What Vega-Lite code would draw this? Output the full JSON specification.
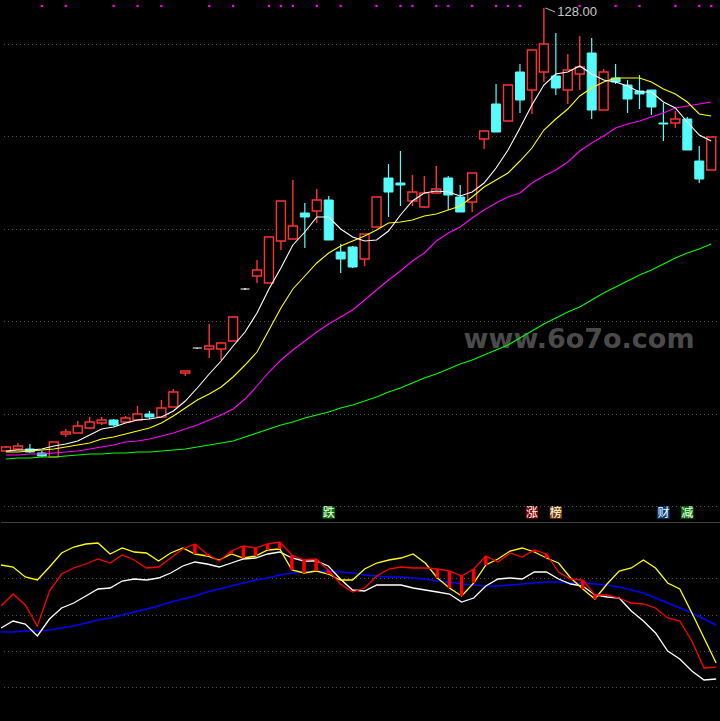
{
"$schema": "https://vega.github.io/schema/vega-lite/v6.json",
"background": "#000000",
"padding": 0,
"spacing": 0,
"config": {"view": {"stroke": null}, "axis": {"disable": true}, "legend": {"disable": true}},
"datasets": {
"k": [
{"i":0,"o":17.25,"h":18.5,"l":17,"c":18.25,"m5":17.25,"m10":17,"m20":16.25,"m60":15.25},
{"i":1,"o":17.75,"h":19.25,"l":17.5,"c":18.5,"m5":17.5,"m10":17,"m20":16.25,"m60":15.5},
{"i":2,"o":17.75,"h":19,"l":16.75,"c":17,"m5":17.5,"m10":17.25,"m20":16.5,"m60":15.5},
{"i":3,"o":16.75,"h":17.25,"l":15.75,"c":16,"m5":17.75,"m10":17.5,"m20":16.5,"m60":15.75},
{"i":4,"o":15.75,"h":19.5,"l":15.75,"c":19.5,"m5":18.5,"m10":17.75,"m20":16.75,"m60":15.75},
{"i":5,"o":21.5,"h":22.75,"l":20.75,"c":22,"m5":19,"m10":18.25,"m20":17,"m60":16},
{"i":6,"o":21.75,"h":24.75,"l":21.75,"c":23.5,"m5":19.75,"m10":18.75,"m20":17.25,"m60":16.25},
{"i":7,"o":23,"h":25.75,"l":22.75,"c":24.5,"m5":21.25,"m10":19.25,"m20":17.75,"m60":16.5},
{"i":8,"o":24.25,"h":25.75,"l":23.75,"c":25,"m5":22.75,"m10":20.25,"m20":18.25,"m60":16.5},
{"i":9,"o":25,"h":25.25,"l":23.5,"c":23.75,"m5":23.25,"m10":20.75,"m20":18.75,"m60":16.75},
{"i":10,"o":24.5,"h":26,"l":24.25,"c":25.5,"m5":24.25,"m10":21.5,"m20":19.5,"m60":16.75},
{"i":11,"o":25,"h":28.5,"l":25,"c":26.5,"m5":25,"m10":22.25,"m20":19.75,"m60":17},
{"i":12,"o":26.5,"h":27.25,"l":25.25,"c":25.75,"m5":25.25,"m10":23,"m20":20.25,"m60":17},
{"i":13,"o":25.75,"h":30,"l":25.75,"c":28,"m5":25.75,"m10":24.25,"m20":21,"m60":17.25},
{"i":14,"o":28.25,"h":32.75,"l":28.25,"c":32,"m5":27.25,"m10":26,"m20":21.75,"m60":17.5},
{"i":15,"o":36.75,"h":37.25,"l":36,"c":37.25,"m5":29.75,"m10":28,"m20":22.75,"m60":17.75},
{"i":16,"o":43,"h":43,"l":42.75,"c":43,"m5":33,"m10":30,"m20":23.75,"m60":18.25},
{"i":17,"o":42.75,"h":49,"l":40.5,"c":43.5,"m5":36.5,"m10":31.5,"m20":25,"m60":18.75},
{"i":18,"o":42.75,"h":44.5,"l":40,"c":44.25,"m5":39.75,"m10":33.25,"m20":26.25,"m60":19.25},
{"i":19,"o":44.75,"h":50.75,"l":44.75,"c":50.75,"m5":43.5,"m10":35.75,"m20":27.75,"m60":19.75},
{"i":20,"o":57.75,"h":58,"l":57.5,"c":57.75,"m5":47,"m10":38.75,"m20":30.25,"m60":20.75},
{"i":21,"o":61,"h":65,"l":59.25,"c":62.5,"m5":51.75,"m10":42,"m20":33.5,"m60":21.75},
{"i":22,"o":59.25,"h":70.75,"l":59.25,"c":70.75,"m5":57.75,"m10":47.5,"m20":37,"m60":22.75},
{"i":23,"o":69.75,"h":79.75,"l":67.5,"c":79.75,"m5":63,"m10":53,"m20":40,"m60":23.75},
{"i":24,"o":70.25,"h":85,"l":70.25,"c":73.5,"m5":68.75,"m10":57.75,"m20":42.5,"m60":24.5},
{"i":25,"o":76.75,"h":79.25,"l":68,"c":75.75,"m5":72,"m10":61,"m20":44.75,"m60":25.5},
{"i":26,"o":77.25,"h":82.75,"l":74.25,"c":80,"m5":75.75,"m10":64.25,"m20":47,"m60":26.25},
{"i":27,"o":80,"h":81,"l":70,"c":70,"m5":75.75,"m10":66.75,"m20":49,"m60":27},
{"i":28,"o":67,"h":69,"l":61.75,"c":65.25,"m5":72.75,"m10":68.5,"m20":50.75,"m60":28},
{"i":29,"o":68.25,"h":68.5,"l":63,"c":63.25,"m5":70.75,"m10":69.75,"m20":52.5,"m60":28.75},
{"i":30,"o":65.25,"h":71.5,"l":63.5,"c":71.5,"m5":69.75,"m10":71,"m20":55,"m60":29.75},
{"i":31,"o":73.25,"h":80.75,"l":73.25,"c":80.75,"m5":70,"m10":72.5,"m20":57.5,"m60":30.75},
{"i":32,"o":85.5,"h":89,"l":75.75,"c":82,"m5":72.25,"m10":74.25,"m20":60,"m60":32},
{"i":33,"o":84.25,"h":92.25,"l":78.5,"c":83.75,"m5":76.25,"m10":74.5,"m20":62.25,"m60":33},
{"i":34,"o":79.75,"h":86.25,"l":78.5,"c":82,"m5":79.75,"m10":75,"m20":64.75,"m60":34.25},
{"i":35,"o":78.25,"h":86,"l":78,"c":81.75,"m5":81.75,"m10":76,"m20":66.75,"m60":35.5},
{"i":36,"o":81.75,"h":88.5,"l":81.75,"c":82.75,"m5":82.25,"m10":76.5,"m20":69.75,"m60":36.5},
{"i":37,"o":85.5,"h":86,"l":77.5,"c":81.25,"m5":82,"m10":77.5,"m20":71.75,"m60":37.75},
{"i":38,"o":80.75,"h":83.75,"l":77,"c":77,"m5":81,"m10":78.5,"m20":73.25,"m60":39},
{"i":39,"o":79.5,"h":86.75,"l":77,"c":86.75,"m5":82,"m10":80.75,"m20":75.5,"m60":40},
{"i":40,"o":95.25,"h":97.25,"l":92.75,"c":97.25,"m5":84.25,"m10":83.25,"m20":77.5,"m60":41.25},
{"i":41,"o":104,"h":109,"l":97,"c":97,"m5":88,"m10":85,"m20":79.25,"m60":42.5},
{"i":42,"o":99.75,"h":108.75,"l":99.75,"c":108.75,"m5":92.5,"m10":86.75,"m20":80.75,"m60":43.75},
{"i":43,"o":112,"h":114,"l":101.75,"c":105,"m5":98,"m10":89.75,"m20":81.75,"m60":45.5},
{"i":44,"o":107.5,"h":117.5,"l":101.5,"c":117.5,"m5":103.75,"m10":93,"m20":84.25,"m60":47.25},
{"i":45,"o":112,"h":128,"l":109.5,"c":119,"m5":108.75,"m10":97.5,"m20":86,"m60":49},
{"i":46,"o":111,"h":121.75,"l":106.25,"c":108,"m5":111.5,"m10":100.25,"m20":87.5,"m60":50.5},
{"i":47,"o":107.5,"h":116.5,"l":104,"c":112.5,"m5":112,"m10":102.75,"m20":89.5,"m60":52},
{"i":48,"o":111.5,"h":121,"l":107.5,"c":113.25,"m5":113.5,"m10":106,"m20":92.25,"m60":53.25},
{"i":49,"o":116.75,"h":120.5,"l":100.25,"c":102.5,"m5":111.5,"m10":108,"m20":94.25,"m60":55},
{"i":50,"o":102.5,"h":112.75,"l":102.5,"c":112,"m5":110,"m10":109.5,"m20":96,"m60":56.75},
{"i":51,"o":110.5,"h":114,"l":109,"c":109.5,"m5":109.5,"m10":110.5,"m20":98,"m60":58.25},
{"i":52,"o":108.75,"h":110,"l":101.75,"c":105.25,"m5":108.5,"m10":110.5,"m20":99,"m60":59.75},
{"i":53,"o":107.25,"h":111.25,"l":102.75,"c":106.5,"m5":107,"m10":110.5,"m20":99.75,"m60":61.25},
{"i":54,"o":107.5,"h":107.5,"l":101.25,"c":103.25,"m5":107,"m10":109.5,"m20":100.75,"m60":62.5},
{"i":55,"o":99.25,"h":104.25,"l":94.75,"c":99,"m5":104.5,"m10":107.75,"m20":101.75,"m60":64},
{"i":56,"o":99.25,"h":102.25,"l":98,"c":100.25,"m5":103,"m10":106.5,"m20":103,"m60":65.5},
{"i":57,"o":100.25,"h":100.75,"l":92.5,"c":92.5,"m5":99.5,"m10":104.5,"m20":103.5,"m60":66.75},
{"i":58,"o":89.75,"h":93.5,"l":84.25,"c":85.25,"m5":96.25,"m10":101.5,"m20":104,"m60":67.75},
{"i":59,"o":87.5,"h":95.75,"l":87.5,"c":95.75,"m5":94.75,"m10":101,"m20":104.5,"m60":69}
],
"ind": [
{"i":0,"ya":78.5,"ra":58,"wa":47,"ba":45},
{"i":1,"ya":77.5,"ra":64,"wa":50.5,"ba":45},
{"i":2,"ya":72.5,"ra":58.5,"wa":49,"ba":45.5},
{"i":3,"ya":71,"ra":48,"wa":43,"ba":45.5},
{"i":4,"ya":77.5,"ra":65.5,"wa":51.5,"ba":46},
{"i":5,"ya":84.5,"ra":74,"wa":57,"ba":47},
{"i":6,"ya":87.5,"ra":77,"wa":59.5,"ba":48},
{"i":7,"ya":89,"ra":79,"wa":63,"ba":49.5},
{"i":8,"ya":89.5,"ra":81.5,"wa":66.5,"ba":51},
{"i":9,"ya":84,"ra":79.5,"wa":67,"ba":52},
{"i":10,"ya":87,"ra":83.5,"wa":70.5,"ba":53.5},
{"i":11,"ya":85,"ra":81,"wa":71.5,"ba":55},
{"i":12,"ya":84.5,"ra":77,"wa":71,"ba":56.5},
{"i":13,"ya":80.5,"ra":77.5,"wa":72,"ba":58},
{"i":14,"ya":84.5,"ra":82,"wa":74.5,"ba":60},
{"i":15,"ya":87,"ra":86.5,"wa":78,"ba":61.5},
{"i":16,"ya":84,"ra":89,"wa":80,"ba":63},
{"i":17,"ya":83,"ra":84,"wa":79,"ba":65},
{"i":18,"ya":81,"ra":80.5,"wa":77.5,"ba":66.5},
{"i":19,"ya":84,"ra":85.5,"wa":79.5,"ba":68},
{"i":20,"ya":82,"ra":88,"wa":81.5,"ba":69.5},
{"i":21,"ya":83,"ra":87,"wa":82,"ba":71},
{"i":22,"ya":86,"ra":89,"wa":84,"ba":72},
{"i":23,"ya":86.5,"ra":90,"wa":85,"ba":73.5},
{"i":24,"ya":76,"ra":83.5,"wa":82,"ba":74.5},
{"i":25,"ya":74.5,"ra":81,"wa":80.5,"ba":75},
{"i":26,"ya":75.5,"ra":81.5,"wa":80.5,"ba":75.5},
{"i":27,"ya":74,"ra":76,"wa":78,"ba":75.5},
{"i":28,"ya":71,"ra":69,"wa":71.5,"ba":75},
{"i":29,"ya":71,"ra":65,"wa":66,"ba":74.5},
{"i":30,"ya":76.5,"ra":67,"wa":65.5,"ba":73.5},
{"i":31,"ya":79.5,"ra":73,"wa":68.5,"ba":73},
{"i":32,"ya":81,"ra":76.5,"wa":68.5,"ba":72.5},
{"i":33,"ya":82,"ra":77.5,"wa":68.5,"ba":72.5},
{"i":34,"ya":84,"ra":77,"wa":67,"ba":72},
{"i":35,"ya":79.5,"ra":77,"wa":66,"ba":71.5},
{"i":36,"ya":72,"ra":76.5,"wa":65,"ba":70.5},
{"i":37,"ya":67,"ra":75.5,"wa":64,"ba":70},
{"i":38,"ya":63,"ra":73,"wa":60,"ba":69},
{"i":39,"ya":69.5,"ra":76.5,"wa":62,"ba":68.5},
{"i":40,"ya":78.5,"ra":83,"wa":68,"ba":68},
{"i":41,"ya":81.5,"ra":80,"wa":71.5,"ba":68},
{"i":42,"ya":85.5,"ra":84.5,"wa":72,"ba":68.5},
{"i":43,"ya":87,"ra":82.5,"wa":71.5,"ba":69},
{"i":44,"ya":85,"ra":86,"wa":75,"ba":69.5},
{"i":45,"ya":82,"ra":84,"wa":75,"ba":70},
{"i":46,"ya":79.5,"ra":75,"wa":71.5,"ba":70},
{"i":47,"ya":72,"ra":71.5,"wa":69,"ba":69.5},
{"i":48,"ya":66.5,"ra":71,"wa":68,"ba":69.5},
{"i":49,"ya":61.5,"ra":63.5,"wa":63.5,"ba":69},
{"i":50,"ya":69,"ra":63.5,"wa":62.5,"ba":68.5},
{"i":51,"ya":75.5,"ra":62,"wa":62,"ba":67.5},
{"i":52,"ya":77,"ra":59.5,"wa":55.5,"ba":66},
{"i":53,"ya":81,"ra":59,"wa":50.5,"ba":64.5},
{"i":54,"ya":77,"ra":57,"wa":44.5,"ba":62},
{"i":55,"ya":69.5,"ra":52,"wa":35.5,"ba":59.5},
{"i":56,"ya":66.5,"ra":50.5,"wa":31.5,"ba":57},
{"i":57,"ya":54.5,"ra":40.5,"wa":25.5,"ba":54.5},
{"i":58,"ya":42,"ra":27,"wa":21,"ba":51.5},
{"i":59,"ya":29.5,"ra":27.5,"wa":21.5,"ba":48.5}
],
"dots": [{"i":3},{"i":5},{"i":9},{"i":11},{"i":13},{"i":17},{"i":19},{"i":22},{"i":23},{"i":24},{"i":26},{"i":28},{"i":31},{"i":33},{"i":34},{"i":36},{"i":37},{"i":39},{"i":41},{"i":42},{"i":43},{"i":48},{"i":51},{"i":53},{"i":56},{"i":58},{"i":59}],
"tags": [{"i":27,"t":"跌"},{"i":44,"t":"涨"},{"i":46,"t":"榜"},{"i":55,"t":"财"},{"i":57,"t":"减"}]
},
"vconcat": [
{
"width": 720, "height": 521,
"layer": [
{"data": {"values": [{"p":118.875},{"p":95.875},{"p":72.625},{"p":49.625},{"p":26.375},{"p":3.375}]},
 "mark": {"type": "rule", "color": "#505050", "strokeDash": [1,3], "strokeWidth": 1},
 "encoding": {"y": {"field": "p", "type": "quantitative", "scale": {"domain": [-0.25,130], "nice": false, "zero": false}}}},
{"data": {"values": [{}]},
 "mark": {"type": "text", "text": "www.6o7o.com", "font": "DejaVu Sans", "fontWeight": "bold", "fontSize": 27, "color": "#4a4a4a", "align": "center", "baseline": "alphabetic"},
 "encoding": {"x": {"datum": 47.94, "type": "quantitative", "scale": {"domain": [0,59.4], "nice": false, "zero": false}}, "y": {"datum": 43, "type": "quantitative"}}},
{"data": {"name": "k"}, "transform": [{"filter": "datum.c < datum.o"}],
 "mark": {"type": "rule", "color": "#54fcfc", "strokeWidth": 1.2, "clip": true},
 "encoding": {"x": {"field": "i", "type": "quantitative"}, "y": {"field": "h", "type": "quantitative"}, "y2": {"field": "l"}}},
{"data": {"name": "k"}, "transform": [{"filter": "datum.c > datum.o"}],
 "mark": {"type": "rule", "color": "#ff3232", "strokeWidth": 1.4, "clip": true},
 "encoding": {"x": {"field": "i", "type": "quantitative"}, "y": {"field": "h", "type": "quantitative"}, "y2": {"field": "c"}}},
{"data": {"name": "k"}, "transform": [{"filter": "datum.c > datum.o"}],
 "mark": {"type": "rule", "color": "#ff3232", "strokeWidth": 1.4, "clip": true},
 "encoding": {"x": {"field": "i", "type": "quantitative"}, "y": {"field": "o", "type": "quantitative"}, "y2": {"field": "l"}}},
{"data": {"name": "k"}, "transform": [{"filter": "datum.c == datum.o"}],
 "mark": {"type": "rule", "color": "#ffffff", "strokeWidth": 1.2, "clip": true},
 "encoding": {"x": {"field": "i", "type": "quantitative"}, "y": {"field": "h", "type": "quantitative"}, "y2": {"field": "l"}}},
{"data": {"name": "k"}, "transform": [{"filter": "datum.c > datum.o"}],
 "mark": {"type": "bar", "width": 9, "fill": "#000000", "stroke": "#ff3232", "strokeWidth": 1.4, "clip": true},
 "encoding": {"x": {"field": "i", "type": "quantitative"}, "y": {"field": "o", "type": "quantitative"}, "y2": {"field": "c"}}},
{"data": {"name": "k"}, "transform": [{"filter": "datum.c < datum.o"}],
 "mark": {"type": "bar", "width": 9, "fill": "#54fcfc", "stroke": "#54fcfc", "strokeWidth": 1, "clip": true},
 "encoding": {"x": {"field": "i", "type": "quantitative"}, "y": {"field": "o", "type": "quantitative"}, "y2": {"field": "c"}}},
{"data": {"name": "k"}, "transform": [{"filter": "datum.c == datum.o"}],
 "mark": {"type": "bar", "width": 9, "fill": "#ffffff", "stroke": "#ffffff", "strokeWidth": 1.2, "clip": true},
 "encoding": {"x": {"field": "i", "type": "quantitative"}, "y": {"field": "o", "type": "quantitative"}, "y2": {"field": "c"}}},
{"data": {"name": "k"},
 "mark": {"type": "line", "color": "#00ff00", "strokeWidth": 1.1, "clip": true},
 "encoding": {"x": {"field": "i", "type": "quantitative"}, "y": {"field": "m60", "type": "quantitative"}}},
{"data": {"name": "k"},
 "mark": {"type": "line", "color": "#ff00ff", "strokeWidth": 1.1, "clip": true},
 "encoding": {"x": {"field": "i", "type": "quantitative"}, "y": {"field": "m20", "type": "quantitative"}}},
{"data": {"name": "k"},
 "mark": {"type": "line", "color": "#ffff00", "strokeWidth": 1.1, "clip": true},
 "encoding": {"x": {"field": "i", "type": "quantitative"}, "y": {"field": "m10", "type": "quantitative"}}},
{"data": {"name": "k"},
 "mark": {"type": "line", "color": "#ffffff", "strokeWidth": 1.1, "clip": true},
 "encoding": {"x": {"field": "i", "type": "quantitative"}, "y": {"field": "m5", "type": "quantitative"}}},
{"data": {"name": "dots"},
 "mark": {"type": "square", "color": "#ff00ff", "filled": true, "opacity": 1, "size": 5},
 "encoding": {"x": {"field": "i", "type": "quantitative"}, "y": {"datum": 128.5, "type": "quantitative"}}},
{"data": {"values": [{}]},
 "mark": {"type": "rule", "color": "#c0c0c0", "strokeWidth": 1},
 "encoding": {"x": {"datum": 45.13, "type": "quantitative"}, "y": {"datum": 128, "type": "quantitative"}, "x2": {"datum": 45.95}, "y2": {"datum": 127}}},
{"data": {"values": [{}]},
 "mark": {"type": "text", "text": "128.00", "font": "Liberation Sans", "fontSize": 13, "color": "#c8c8c8", "align": "left", "baseline": "middle"},
 "encoding": {"x": {"datum": 46.12, "type": "quantitative"}, "y": {"datum": 127, "type": "quantitative"}}},
{"data": {"name": "tags"},
 "mark": {"type": "square", "filled": true, "opacity": 1, "size": 150},
 "encoding": {"x": {"field": "i", "type": "quantitative"}, "y": {"datum": 1.875, "type": "quantitative"},
   "color": {"field": "t", "type": "nominal", "scale": {"domain": ["跌","涨","榜","财","减"], "range": ["#007800","#800000","#804000","#004080","#008000"]}, "legend": null}}},
{"data": {"name": "tags"},
 "mark": {"type": "text", "font": "Noto Sans CJK SC", "fontSize": 12, "color": "#ffffff", "align": "center", "baseline": "middle"},
 "encoding": {"x": {"field": "i", "type": "quantitative"}, "y": {"datum": 1.875, "type": "quantitative"}, "text": {"field": "t"}}}
]
},
{
"width": 720, "height": 200,
"layer": [
{"data": {"values": [{"v":71.75},{"v":53.25},{"v":35.25},{"v":17.25}]},
 "mark": {"type": "rule", "color": "#505050", "strokeDash": [1,3], "strokeWidth": 1},
 "encoding": {"y": {"field": "v", "type": "quantitative", "scale": {"domain": [0,100], "nice": false, "zero": false}}}},
{"data": {"values": [{}]},
 "mark": {"type": "rule", "color": "#404040", "strokeWidth": 1},
 "encoding": {"y": {"datum": 99.75, "type": "quantitative"}}},
{"data": {"name": "ind"},
 "mark": {"type": "line", "color": "#0000ff", "strokeWidth": 1.5, "clip": true},
 "encoding": {"x": {"field": "i", "type": "quantitative", "scale": {"domain": [0,59.4], "nice": false, "zero": false}}, "y": {"field": "ba", "type": "quantitative"}}},
{"data": {"name": "ind"},
 "mark": {"type": "line", "color": "#ffffff", "strokeWidth": 1.3, "clip": true},
 "encoding": {"x": {"field": "i", "type": "quantitative"}, "y": {"field": "wa", "type": "quantitative"}}},
{"data": {"name": "ind"},
 "mark": {"type": "line", "color": "#ffff00", "strokeWidth": 1.3, "clip": true},
 "encoding": {"x": {"field": "i", "type": "quantitative"}, "y": {"field": "ya", "type": "quantitative"}}},
{"data": {"name": "ind"},
 "mark": {"type": "line", "color": "#ff0000", "strokeWidth": 1.3, "clip": true},
 "encoding": {"x": {"field": "i", "type": "quantitative"}, "y": {"field": "ra", "type": "quantitative"}}},
{"data": {"name": "ind"}, "transform": [{"filter": "datum.ra > datum.ya"}],
 "mark": {"type": "rule", "color": "#ff0000", "strokeWidth": 3.5, "clip": true},
 "encoding": {"x": {"field": "i", "type": "quantitative"}, "y": {"field": "ra", "type": "quantitative"}, "y2": {"field": "ya"}}}
]
}
]
}
